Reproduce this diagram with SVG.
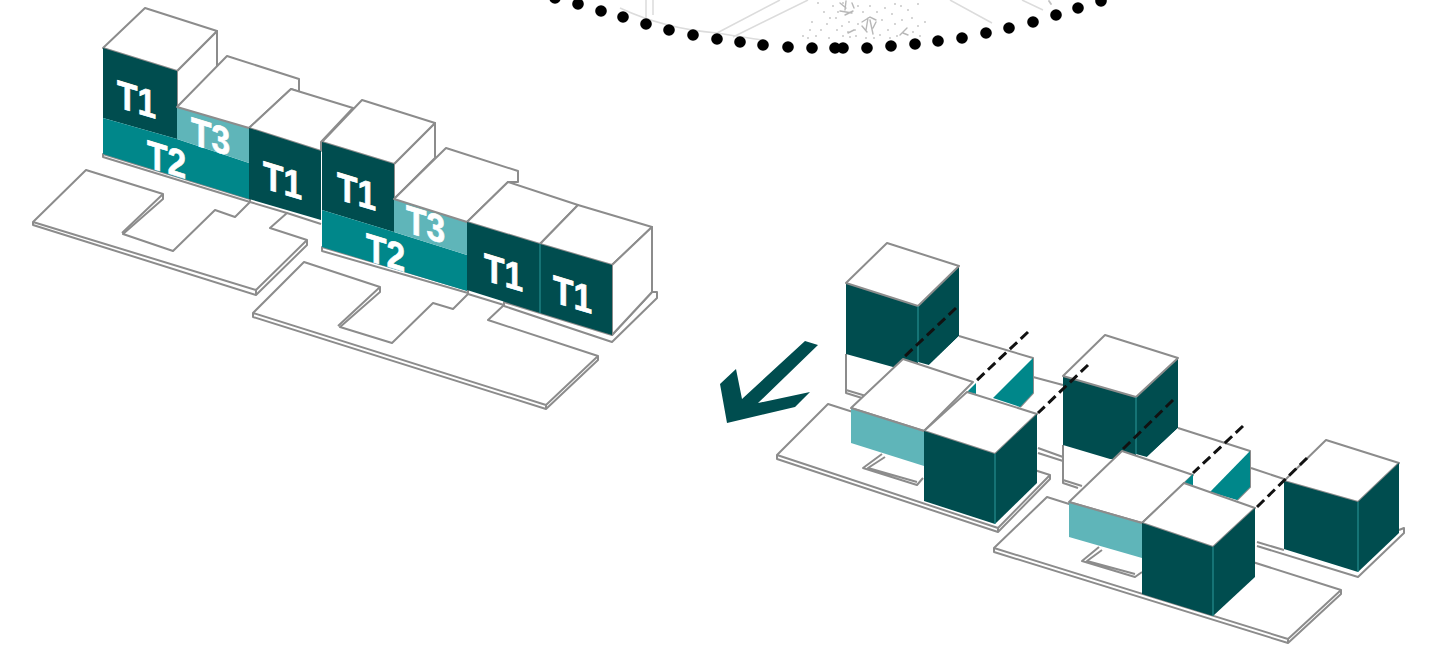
<svg xmlns="http://www.w3.org/2000/svg" width="1432" height="662" viewBox="0 0 1432 662">
<style>
.w{fill:#fff;stroke:#8c8c8c;stroke-width:2;stroke-linejoin:round}
.n{fill:#fff}
.l{fill:none;stroke:#8c8c8c;stroke-width:2;stroke-linejoin:round}
.d{fill:#004d4f}
.m{fill:#00878a}
.t{fill:#5fb5b9}
.e{fill:none;stroke:#2a9a9c;stroke-width:1}
.dash{fill:none;stroke:#111;stroke-width:3;stroke-dasharray:10 5}
.lab{font-family:"Liberation Sans",Arial,sans-serif;font-weight:700;font-size:39px;fill:#fff;stroke:#fff;stroke-width:.7}
.f{fill:none;stroke:#dcdcdc;stroke-width:1.5}
.s{fill:none;stroke:#c2c2c2;stroke-width:1.8;stroke-linecap:round}
.q{fill:none;stroke:#b8b8b8;stroke-width:1.4;stroke-linecap:round}
</style>
<rect width="1432" height="662" fill="#fff"/>
<g id="plan-arc">
<path class="f" d="M646 0V21M653 0V15M620 8C650 22 680 30 717 33C735 36 750 38 763 40M717 33L780 0M733 37L808 0M950 0L992 23M1022 0L1043 10"/>
<path class="s" d="M1049 1l2 3M818 3h.01M824 12h.01M812 22h.01M821 30h.01M808 38h.01M816 36h.01M827 24h.01M833 6h.01M836 18h.01M829 38h.01M837 30h.01M843 36h.01M810 30h.01M803 36h.01M842 26h.01M849 22h.01M855 30h.01M850 37h.01M858 6h.01M863 12h.01M858 24h.01M870 6h.01M877 12h.01M882 20h.01M885 8h.01M892 14h.01M895 4h.01M888 30h.01M895 24h.01M880 35h.01M902 20h.01M908 10h.01M912 18h.01M918 4h.01M918 26h.01M925 22h.01M913 32h.01M920 36h.01M838 12h.01M830 18h.01M897 36h.01M848 32h.01M856 36h.01M874 38h.01M866 38h.01M890 38h.01M901 6h.01M843 3h.01"/>
<path class="q" d="M840 3l6 5M846 1l-1 9M840 11l12 2M845 15l8-4M852 3l2 5M862 22l8-5 6 3M868 18l-2 12M870 20l3 14M862 26l5 6M876 22l-3 6M848 33l6-3M900 35l7-7M903 33l5 2"/>
<g fill="#000"><circle cx="555" cy="-2" r="5.8"/><circle cx="578" cy="4" r="5.8"/><circle cx="601" cy="11" r="5.8"/><circle cx="623" cy="17" r="5.8"/><circle cx="646" cy="24" r="5.8"/><circle cx="669" cy="30" r="5.8"/><circle cx="693" cy="35" r="5.8"/><circle cx="717" cy="39" r="5.8"/><circle cx="740" cy="42" r="5.8"/><circle cx="763" cy="45" r="5.8"/><circle cx="788" cy="47" r="5.8"/><circle cx="812" cy="48" r="5.8"/><circle cx="835" cy="48" r="5.8"/><circle cx="843" cy="48" r="5.8"/><circle cx="867" cy="48" r="5.8"/><circle cx="891" cy="46" r="5.8"/><circle cx="915" cy="44" r="5.8"/><circle cx="938" cy="41" r="5.8"/><circle cx="962" cy="38" r="5.8"/><circle cx="986" cy="33" r="5.8"/><circle cx="1009" cy="28" r="5.8"/><circle cx="1033" cy="22" r="5.8"/><circle cx="1056" cy="15" r="5.8"/><circle cx="1078" cy="8" r="5.8"/><circle cx="1101" cy="1" r="5.8"/></g>
</g>
<g id="plate-a"><path class="w" d="M86 170L163 194V199L123 234L173 251L215 210L235 217L250 202L287 213L270 228L307 240V245L256 295L33 225V222Z"/><path class="l" d="M33 222L256 290L307 240M256 290V295M163 194L122 233"/></g>
<g id="plate-b"><path class="w" d="M304 262L380 287V292L340 327L392 343L433 303L453 309L468 294L504 305L488 320L598 356V360L546 409L253 317V313Z"/><path class="l" d="M253 313L546 405L598 356M546 405V409M380 287L338 326"/></g>
<g id="mass-1">
<path class="w" d="M103 154V157L250 202V199Z"/>
<path class="w" d="M177 71L217 31V68L177 107Z"/>
<path class="w" d="M103 48L145 8L217 31L177 71Z"/>
<path class="d" d="M103 48L177 71V139L103 118Z"/>
<path class="m" d="M103 118L177 139L249 163V199L103 154Z"/>
<path class="t" d="M177 107L249 128V163L177 139Z"/>
<path class="w" d="M177 107L227 56L299 79V92L291 89L249 128Z"/>
<path class="w" d="M249 128L291 89L353 108L321 142V151Z"/>
<path class="l" d="M287 213L321 224"/>
<path class="d" d="M249 128L321 151V220L249 199Z"/>
</g>
<g id="mass-2">
<path class="w" d="M322 247V251L468 293V290Z"/>
<path class="w" d="M394 164L435 123V158L394 199Z"/>
<path class="w" d="M322 142L362 100L435 123L394 164Z"/>
<path class="d" d="M322 142L394 164V232L322 210Z"/>
<path class="m" d="M322 210L394 232L467 255V291L322 247Z"/>
<path class="t" d="M394 199L467 222V255L394 232Z"/>
<path class="w" d="M394 199L446 148L518 171V182L508 182L467 222Z"/>
<path class="w" d="M504 302V306L612 342L657 298V292L652 292L612 335Z"/>
<path class="w" d="M467 222L508 182L578 205L540 244Z"/>
<path class="w" d="M540 244L578 205L652 227L612 265Z"/>
<path class="w" d="M612 265L652 227V292L612 335Z"/>
<path class="d" d="M467 222L540 244V313L467 290Z"/>
<path class="d" d="M540 244L612 265V335L540 313Z"/>
<path class="e" d="M540 244V313"/>
</g>
<g id="labels">
<text class="lab" transform="translate(117 107) skewY(17) scale(.86 1)">T1</text>
<text class="lab" transform="translate(147 167) skewY(17) scale(.86 1)">T2</text>
<text class="lab" transform="translate(191 144) skewY(17) scale(.86 1)">T3</text>
<text class="lab" transform="translate(263 188) skewY(17) scale(.86 1)">T1</text>
<text class="lab" transform="translate(337 199) skewY(17) scale(.86 1)">T1</text>
<text class="lab" transform="translate(366 260) skewY(17) scale(.86 1)">T2</text>
<text class="lab" transform="translate(406 232) skewY(17) scale(.86 1)">T3</text>
<text class="lab" transform="translate(484 280) skewY(17) scale(.86 1)">T1</text>
<text class="lab" transform="translate(553 302) skewY(17) scale(.86 1)">T1</text>
</g>
<g id="arrow"><path class="d" d="M805 341L818 345L758 403L810 392L795 407L727 423L720 384L736 369L742 399Z"/></g>
<g id="group-c">
<path class="l" d="M1033 377L1063 385M1038 448L1063 457M1038 453L1063 461"/>
<path class="n" d="M846 354V390L863 396L893 367Z"/>
<path class="l" d="M846 354V393L862 398M846 390L866 396"/>
<path class="d" d="M846 283L918 306V380L893 367L846 354Z"/>
<path class="d" d="M918 306L959 266V336L929 365L918 362Z"/>
<path class="w" d="M846 283L887 243L959 266L918 306Z"/>
<path class="e" d="M918 306V362"/>
<path class="w" d="M828 404L1050 475V479L998 532L777 459V455Z"/>
<path class="l" d="M777 455L998 528L1050 475M998 528V532"/>
<path class="l" d="M882 454L863 468L917 485L923 478M885 457L868 468L917 482"/>
<path class="n" d="M959 336L1033 358V393L1020 407L929 378V365Z"/>
<path class="l" d="M959 336L1033 358V393L1020 407"/>
<path class="m" d="M1033 358L993 398L1020 407L1033 393Z"/>
<path class="w" d="M851 408L903 359L973 382L924 431Z"/>
<path class="t" d="M851 408L924 431V466L851 443Z"/>
<path class="l" d="M851 408L924 431"/>
<path class="m" d="M967 392L976 383V394Z"/>
<path class="w" d="M924 431L967 392L1037 414L995 454Z"/>
<path class="d" d="M924 431L995 454V524L924 501Z"/>
<path class="d" d="M995 454L1037 414V483L995 524Z"/>
<path class="e" d="M995 454V524"/>
</g>
<g id="group-d">
<path class="n" d="M1063 445V480L1080 488L1110 459Z"/>
<path class="l" d="M1063 445V483L1078 488M1063 480L1082 486"/>
<path class="d" d="M1063 376L1136 397V459L1110 459L1063 445Z"/>
<path class="d" d="M1136 397L1178 358V428L1147 457L1136 454Z"/>
<path class="w" d="M1063 376L1105 335L1178 358L1136 397Z"/>
<path class="e" d="M1136 397V454"/>
<path class="l" d="M1251 468L1284 479M1257 542L1284 550M1257 546L1358 577L1404 533V528L1399 530"/>
<path class="w" d="M1047 497L1341 590V594L1288 643L994 552V548Z"/>
<path class="l" d="M994 548L1288 639L1341 590M1288 639V643"/>
<path class="l" d="M1099 547L1082 561L1135 577L1142 572M1102 550L1087 561L1135 574"/>
<path class="n" d="M1178 428L1250 451V487L1237 500L1147 471V457Z"/>
<path class="l" d="M1178 428L1250 451V487L1237 500"/>
<path class="m" d="M1250 451L1210 492L1237 500L1250 487Z"/>
<path class="w" d="M1069 502L1122 451L1193 475L1142 523Z"/>
<path class="t" d="M1069 502L1142 523V558L1069 537Z"/>
<path class="l" d="M1069 502L1142 523"/>
<path class="m" d="M1184 483L1193 474V486Z"/>
<path class="w" d="M1142 523L1184 483L1255 508L1213 547Z"/>
<path class="d" d="M1142 523L1213 547V616L1142 594Z"/>
<path class="d" d="M1213 547L1255 508V577L1213 616Z"/>
<path class="e" d="M1213 547V616"/>
<path class="w" d="M1284 481L1326 440L1399 463L1358 502Z"/>
<path class="d" d="M1284 481L1358 502V572L1284 549Z"/>
<path class="d" d="M1358 502L1399 463V533L1358 572Z"/>
<path class="e" d="M1358 502V572"/>
</g>
<g id="connectors">
<path class="dash" d="M956 308L903 358"/>
<path class="dash" d="M1028 332L975 382"/>
<path class="dash" d="M1088 365L1038 413"/>
<path class="dash" d="M1173 400L1122 450"/>
<path class="dash" d="M1243 426L1193 473"/>
<path class="dash" d="M1307 458L1257 507"/>
</g>
</svg>
